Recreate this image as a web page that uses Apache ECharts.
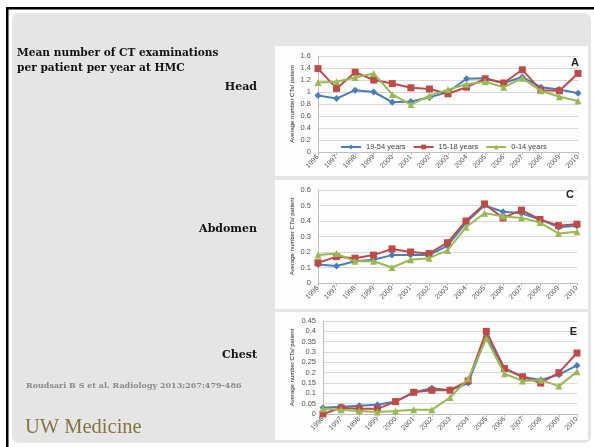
<!DOCTYPE html>
<html>
<head>
<meta charset="utf-8">
<script src="https://cdn.jsdelivr.net/npm/echarts@6/dist/echarts.min.js"></script>
<style>
html,body{margin:0;padding:0;background:#fff;}
#c{width:594px;height:447px;}
</style>
</head>
<body>
<div id="c"></div>
<script>
const years = ['1996','1997','1998','1999','2000','2001','2002','2003','2004','2005','2006','2007','2008','2009','2010'];
const seriesNames = ['19-54 years','15-18 years','0-14 years'];

const headAdult = [0.94,0.89,1.03,1.0,0.83,0.84,0.91,1.0,1.22,1.23,1.15,1.25,1.08,1.04,0.98];
const headTeen  = [1.39,1.06,1.33,1.2,1.14,1.07,1.05,0.97,1.08,1.22,1.15,1.37,1.03,1.02,1.31];
const headChild = [1.16,1.17,1.24,1.31,0.96,0.79,0.94,1.04,1.13,1.17,1.08,1.23,1.02,0.92,0.85];

const abdAdult = [0.12,0.11,0.14,0.15,0.18,0.18,0.18,0.24,0.39,0.50,0.46,0.45,0.41,0.36,0.37];
const abdTeen  = [0.13,0.17,0.16,0.18,0.22,0.20,0.19,0.26,0.40,0.51,0.42,0.47,0.41,0.37,0.38];
const abdChild = [0.18,0.19,0.14,0.14,0.10,0.15,0.16,0.21,0.36,0.45,0.43,0.42,0.39,0.32,0.33];

const chestAdult = [0.03,0.035,0.04,0.045,0.06,0.105,0.125,0.115,0.15,0.375,0.22,0.18,0.165,0.19,0.235];
const chestTeen  = [0.0,0.03,0.025,0.025,0.06,0.105,0.115,0.115,0.16,0.40,0.22,0.18,0.15,0.20,0.295];
const chestChild = [0.025,0.02,0.015,0.01,0.015,0.02,0.02,0.08,0.17,0.365,0.195,0.16,0.165,0.135,0.205];

const colors = ['#4a7ebb','#be4b48','#98b954'];
const symbols = ['diamond','rect','triangle'];
const symSizes = [7,7,7];

const chart = echarts.init(document.getElementById('c'));

const grids = [
  {left:318, right:16, top:56, bottom:295},
  {left:318, right:17, top:190, bottom:164},
  {left:323, right:17, top:321, bottom:33}
];
const yCfg = [
  {max:1.6, interval:0.2},
  {max:0.6, interval:0.1},
  {max:0.45, interval:0.05}
];
const dataSets = [
  [headAdult, headTeen, headChild],
  [abdAdult, abdTeen, abdChild],
  [chestAdult, chestTeen, chestChild]
];

const xAxes = grids.map((g,i)=>({
  type:'category', gridIndex:i, data:years, boundaryGap:false,
  axisLine:{lineStyle:{color:'#bfbfbf',width:1}},
  axisTick:{show:true, lineStyle:{color:'#bfbfbf'}, length:3},
  axisLabel:{rotate:45, fontSize:7, color:'#555', fontFamily:'Liberation Sans', margin:4, interval:0}
}));
const yAxes = grids.map((g,i)=>({
  type:'value', gridIndex:i, min:0, max:yCfg[i].max, interval:yCfg[i].interval,
  name:'Average number CTs/ patient', nameLocation:'middle', nameRotate:90, nameGap:i===2?28:23,
  nameTextStyle:{fontSize:6, color:'#222', fontFamily:'Liberation Sans'},
  axisLine:{show:true, lineStyle:{color:'#bfbfbf'}},
  axisTick:{show:false},
  splitLine:{lineStyle:{color:'#d9d9d9', width:1}},
  axisLabel:{fontSize:7.5, color:'#555', fontFamily:'Liberation Sans', margin:7,
    formatter:v=>String(Math.round(v*100)/100)}
}));

const series = [];
dataSets.forEach((set,gi)=>{
  set.forEach((d,si)=>{
    series.push({
      type:'line', name:seriesNames[si], xAxisIndex:gi, yAxisIndex:gi, data:d,
      symbol:symbols[si], symbolSize:symSizes[si], showSymbol:true,
      lineStyle:{color:colors[si], width:2},
      itemStyle:{color:colors[si]},
      emphasis:{disabled:true}, animation:false, z:2+si
    });
  });
});

const letterStyle = {fontSize:11, fontWeight:'bold', fill:'#222', fontFamily:'Liberation Sans'};
const labelFont = {fontSize:11, fontWeight:'bold', fill:'#111', fontFamily:'DejaVu Serif'};
const titleFont = {fontSize:10.6, fontWeight:'bold', fill:'#111', fontFamily:'DejaVu Serif'};

chart.setOption({
  animation:false,
  grid:grids,
  xAxis:xAxes,
  yAxis:yAxes,
  legend:{
    data:seriesNames, left:335, top:138, itemWidth:20, itemHeight:6, itemGap:7,
    textStyle:{fontSize:7.5, color:'#444', fontFamily:'Liberation Sans'},
    selectedMode:false
  },
  series:series,
  graphic:[
    {type:'rect', z:-100, shape:{x:0,y:0,width:594,height:447}, style:{fill:'#ffffff'}},
    {type:'rect', z:-99, shape:{x:6,y:7,width:588,height:2.5}, style:{fill:'#000'}},
    {type:'rect', z:-99, shape:{x:6,y:7,width:2.5,height:440}, style:{fill:'#000'}},
    {type:'rect', z:-98, shape:{x:12,y:13,width:579,height:430,r:7}, style:{fill:'#e5e5e5'}},
    {type:'rect', z:-97, shape:{x:275,y:46,width:313,height:130}, style:{fill:'#fdfdfd'}},
    {type:'rect', z:-97, shape:{x:275,y:180,width:313,height:129}, style:{fill:'#fdfdfd'}},
    {type:'rect', z:-97, shape:{x:275,y:312,width:313,height:128}, style:{fill:'#fdfdfd'}},
    {type:'text', z:50, x:17, y:53, style:Object.assign({text:'Mean number of CT examinations', verticalAlign:'middle'}, titleFont)},
    {type:'text', z:50, x:17, y:68, style:Object.assign({text:'per patient per year at HMC', verticalAlign:'middle'}, titleFont)},
    {type:'text', z:50, x:257, y:87, style:Object.assign({text:'Head', align:'right', verticalAlign:'middle'}, labelFont)},
    {type:'text', z:50, x:257, y:229, style:Object.assign({text:'Abdomen', align:'right', verticalAlign:'middle'}, labelFont)},
    {type:'text', z:50, x:257, y:355, style:Object.assign({text:'Chest', align:'right', verticalAlign:'middle'}, labelFont)},
    {type:'text', z:50, x:26, y:386, style:{text:'Roudsari B S et al. Radiology 2013;267:479-486', fontSize:8, fontWeight:'bold', fill:'#8a8a8a', fontFamily:'DejaVu Serif', verticalAlign:'middle'}},
    {type:'text', z:50, x:25, y:428, style:{text:'UW Medicine', fontSize:20.5, fill:'#857440', fontFamily:'Liberation Serif', verticalAlign:'middle'}},
    {type:'text', z:50, x:579, y:63, style:Object.assign({text:'A', align:'right', verticalAlign:'middle'}, letterStyle)},
    {type:'text', z:50, x:574, y:195, style:Object.assign({text:'C', align:'right', verticalAlign:'middle'}, letterStyle)},
    {type:'text', z:50, x:577, y:332, style:Object.assign({text:'E', align:'right', verticalAlign:'middle'}, letterStyle)}
  ]
});
</script>
</body>
</html>
